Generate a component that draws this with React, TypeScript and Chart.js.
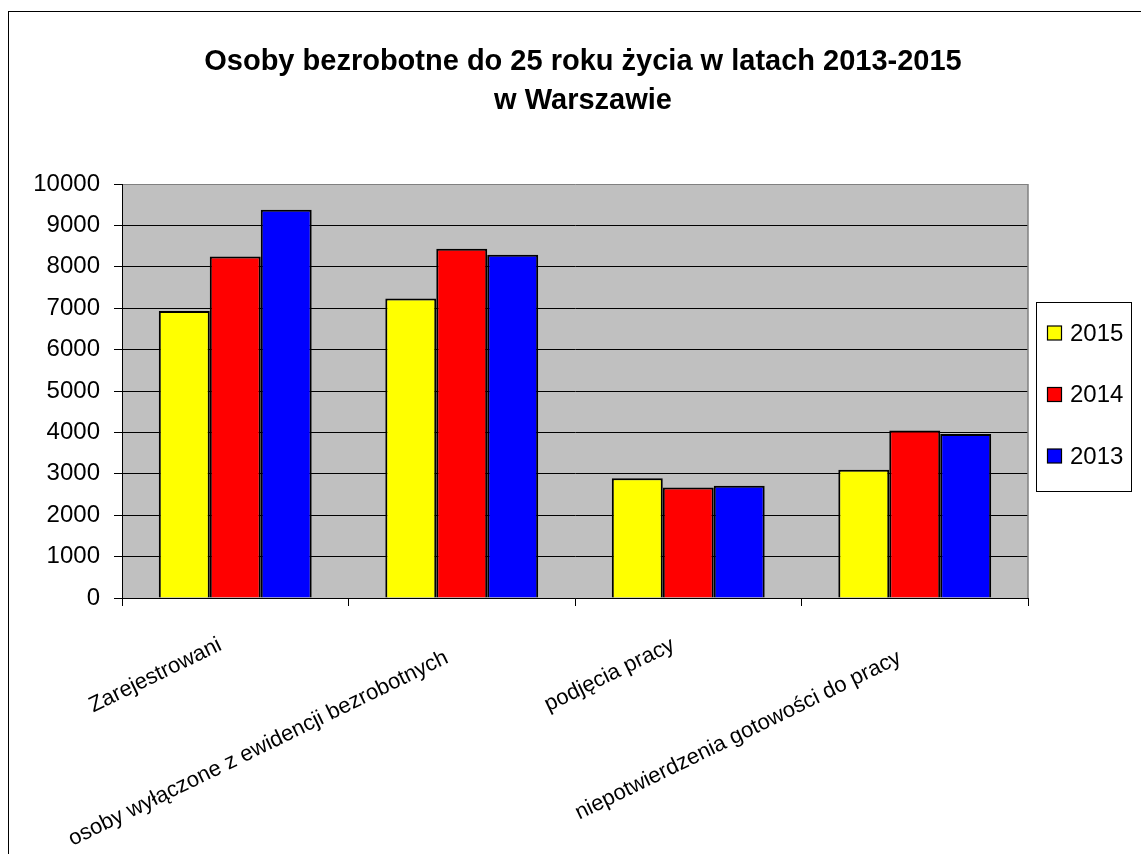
import React, { useEffect, useRef } from "react";
import { Chart, registerables } from "chart.js";

Chart.register(...registerables);

const categories = [
  "Zarejestrowani",
  "osoby wyłączone z ewidencji bezrobotnych",
  "podjęcia pracy",
  "niepotwierdzenia gotowości do pracy",
];
const seriesLabels = ["2015", "2014", "2013"];
const values2015 = [6930, 7235, 2895, 3095];
const values2014 = [8250, 8435, 2667, 4048];
const values2013 = [9380, 8290, 2714, 3960];
const seriesColors = ["#FFFF00", "#FF0000", "#0000FF"];
const titleLines = ["Osoby bezrobotne do 25 roku życia w latach 2013-2015", "w Warszawie"];

const FONT = "'Liberation Sans', Arial, sans-serif";

const plotDecor = {
  id: "plotDecor",
  beforeDraw(chart: any) {
    const { ctx, chartArea: a } = chart;
    ctx.save();
    ctx.fillStyle = "#C0C0C0";
    ctx.fillRect(a.left, a.top, a.right - a.left, a.bottom - a.top);
    ctx.restore();
  },
  afterDraw(chart: any) {
    const { ctx, chartArea: a } = chart;
    ctx.save();
    ctx.strokeStyle = "#808080";
    ctx.lineWidth = 1.5;
    ctx.beginPath();
    ctx.moveTo(a.right, a.top);
    ctx.lineTo(a.right, a.bottom);
    ctx.stroke();
    ctx.restore();

    // legend
    const left = a.right + 8;
    const top = a.top + 118;
    const w = 95;
    const h = 189;
    ctx.save();
    ctx.fillStyle = "#FFFFFF";
    ctx.fillRect(left, top, w, h);
    ctx.strokeStyle = "#000";
    ctx.lineWidth = 1;
    ctx.strokeRect(Math.round(left) + 0.5, Math.round(top) + 0.5, w, h);
    chart.data.datasets.forEach((ds: any, i: number) => {
      const cy = top + 31 + i * 61.5;
      const sx = left + 11.5;
      ctx.fillStyle = ds.backgroundColor;
      ctx.fillRect(sx, cy - 7, 14, 14);
      ctx.strokeStyle = "#000";
      ctx.lineWidth = 1.2;
      ctx.strokeRect(sx, cy - 7, 14, 14);
      ctx.fillStyle = "#000";
      ctx.font = `24px ${FONT}`;
      ctx.textBaseline = "middle";
      ctx.textAlign = "left";
      ctx.fillText(ds.label, left + 34, cy + 1);
    });
    ctx.restore();
  },
};

export default function App() {
  const ref = useRef<HTMLCanvasElement | null>(null);

  useEffect(() => {
    if (!ref.current) return;
    const allValues = [values2015, values2014, values2013];
    const chart = new Chart(ref.current, {
      type: "bar",
      data: {
        labels: categories,
        datasets: seriesLabels.map((label, i) => ({
          label,
          data: allValues[i],
          backgroundColor: seriesColors[i],
          borderColor: "#000",
          borderWidth: 2,
          categoryPercentage: 0.675,
          barPercentage: 1.0,
        })),
      },
      options: {
        responsive: false,
        animation: false,
        layout: { padding: 0 },
        plugins: {
          legend: { display: false },
          tooltip: { enabled: false },
          title: {
            display: true,
            text: titleLines,
            color: "#000",
            font: { family: FONT, size: 29, weight: "bold", lineHeight: 1.35 },
            padding: { top: 30.5, bottom: 63.2 },
          },
        },
        scales: {
          x: {
            grid: {
              drawOnChartArea: false,
              drawTicks: true,
              tickLength: 8,
              color: "#000",
              offset: true,
            },
            border: { color: "#000", width: 1 },
            ticks: {
              color: "#000",
              // alternate labels sit a little lower, as in the original
              font: (c: any) => ({
                family: FONT,
                size: 22,
                lineHeight: c.index % 2 === 1 ? 2.5 : 1.2,
              }),
              minRotation: 26,
              maxRotation: 26,
              autoSkip: false,
              padding: 26,
              labelOffset: -15,
            },
            afterFit(scale: any) {
              scale.height = 256;
            },
          },
          y: {
            min: 0,
            max: 10000,
            ticks: {
              stepSize: 1000,
              color: "#000",
              font: { family: FONT, size: 24 },
              padding: 14,
              callback: (v: any) => String(v),
            },
            grid: {
              color: (c: any) => (c.tick && c.tick.value === 10000 ? "#808080" : "#000"),
              tickColor: "#000",
              tickLength: 8,
              lineWidth: 1,
            },
            border: { color: "#000", width: 1 },
            afterFit(scale: any) {
              scale.width = 113;
            },
          },
          legendSpace: {
            type: "linear",
            position: "right",
            display: true,
            grid: { display: false },
            border: { display: false },
            ticks: { display: false },
            afterFit(scale: any) {
              scale.width = 129;
            },
          },
        },
      },
      plugins: [plotDecor],
    });
    return () => chart.destroy();
  }, []);

  return (
    <div
      style={{
        position: "fixed",
        left: 8,
        top: 11,
        width: 1133,
        height: 843,
        borderLeft: "1px solid #000",
        borderTop: "1px solid #000",
        overflow: "hidden",
        background: "#fff",
      }}
    >
      <canvas ref={ref} width={1148} height={842} style={{ display: "block" }} />
    </div>
  );
}
